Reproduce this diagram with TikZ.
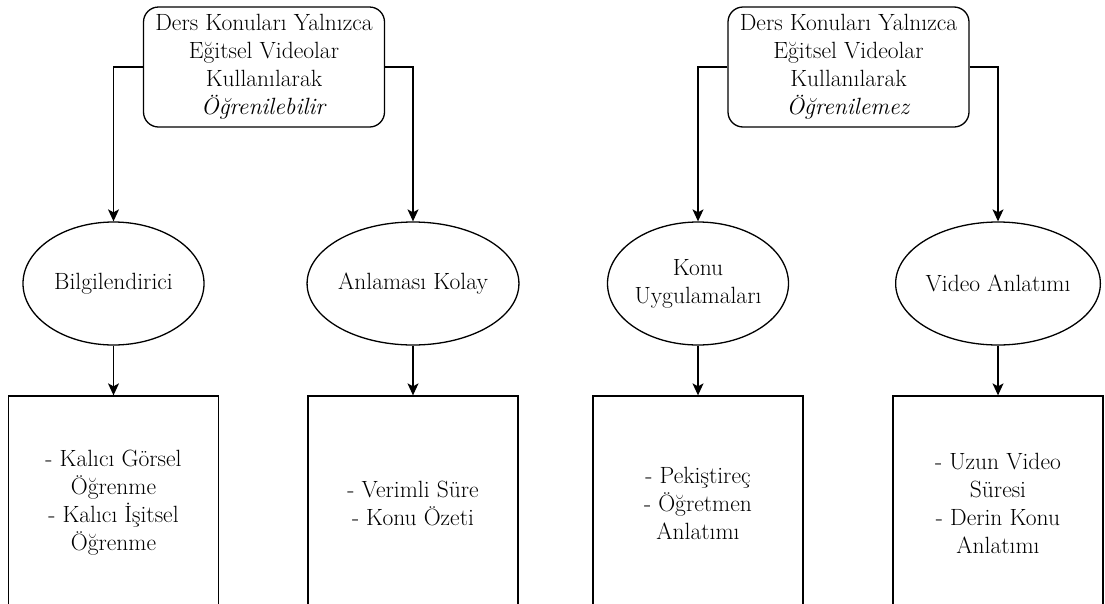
\documentclass[tikz,border=0pt]{standalone}
\usepackage{fontspec}
\usetikzlibrary{shapes.geometric,arrows.meta}
\begin{document}
\begin{tikzpicture}[x=1pt,y=-1pt,
  every node/.style={font=\rmfamily\fontsize{23.5}{28}\selectfont, align=center, text=black},
  topbox/.style={draw, line width=1.3pt, rounded corners=15pt, minimum width=241pt, minimum height=120pt, inner sep=0pt},
  oval/.style={draw, line width=1.3pt, ellipse, minimum width=181pt, minimum height=123pt, inner sep=0pt},
  listbox/.style={draw, line width=1.3pt, rectangle, minimum width=210pt, minimum height=214pt, inner sep=0pt},
  link/.style={draw, line width=1.3pt, -{Stealth[length=12pt,width=11pt,inset=3pt]}}
]
\useasboundingbox (0,0) rectangle (1105,603);
\fill[white] (0,0) rectangle (1105,603);
\clip (0,0) rectangle (1105,603);

% upper headings
\node[topbox] (t1) at (264,67) {Ders Konuları Yalnızca\\Eğitsel Videolar\\Kullanılarak\\\textit{Öğrenilebilir}};
\node[topbox] (t2) at (848.5,67) {Ders Konuları Yalnızca\\Eğitsel Videolar\\Kullanılarak\\\textit{Öğrenilemez}};

% middle ovals
\node[oval] (e1) at (113.5,283.5) {Bilgilendirici};
\node[oval] (e2) at (413,283.5) {Anlaması Kolay};
\node[oval] (e3) at (698,283.5) {Konu\\Uygulamaları};
\node[oval] (e4) at (998,283.5) {Video Anlatımı};

% lower lists
\node[listbox] (b1) at (113.5,503) {- Kalıcı Görsel\\Öğrenme\\- Kalıcı İşitsel\\Öğrenme};
\node[listbox] (b2) at (413,503) {- Verimli Süre\\- Konu Özeti};
\node[listbox] (b3) at (698,503) {- Pekiştireç\\- Öğretmen\\Anlatımı};
\node[listbox] (b4) at (998,503) {- Uzun Video\\Süresi\\- Derin Konu\\Anlatımı};

% connectors
\draw[link] (t1.west) -| (e1.north);
\draw[link] (t1.east) -| (e2.north);
\draw[link] (t2.west) -| (e3.north);
\draw[link] (t2.east) -| (e4.north);
\draw[link] (e1.south) -- (b1.north);
\draw[link] (e2.south) -- (b2.north);
\draw[link] (e3.south) -- (b3.north);
\draw[link] (e4.south) -- (b4.north);
\end{tikzpicture}
\end{document}
